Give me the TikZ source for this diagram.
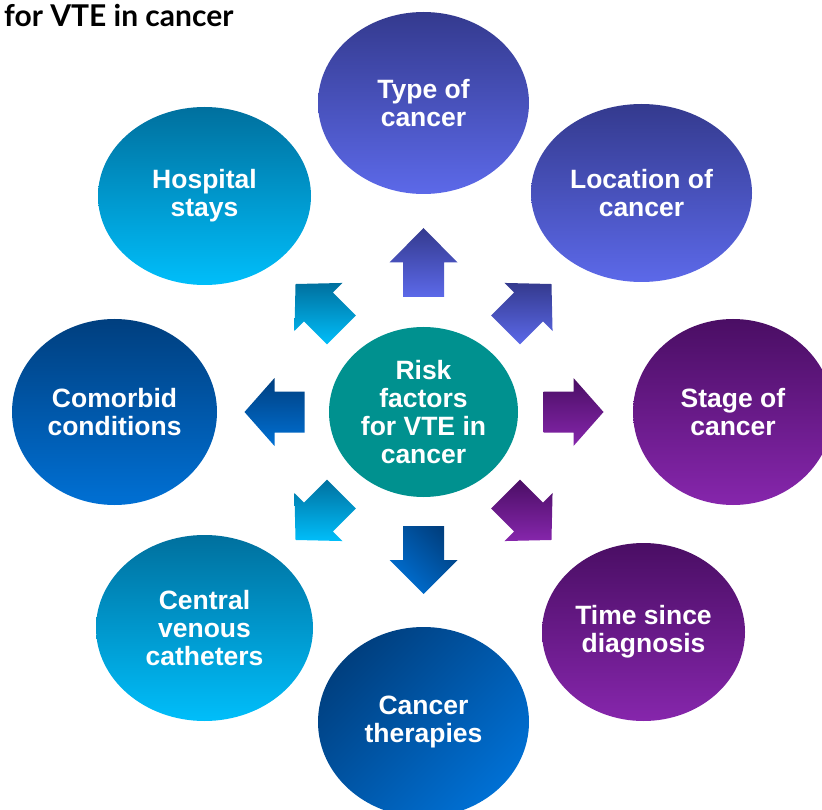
\documentclass[tikz,border=0pt]{standalone}
\usepackage{fontspec}
\setmainfont{Liberation Sans}
\newfontfamily\headfont{Lato}
\usetikzlibrary{shapes.geometric,calc}

\definecolor{indigoTop}{HTML}{343A8E}
\definecolor{indigoBot}{HTML}{5C69E9}
\definecolor{cyanTop}{HTML}{00709E}
\definecolor{cyanBot}{HTML}{00BEFA}
\definecolor{navyTop}{HTML}{003F7F}
\definecolor{navyBot}{HTML}{0070D4}
\definecolor{plumTop}{HTML}{4A0E64}
\definecolor{plumBot}{HTML}{8626AC}
\definecolor{hubTeal}{HTML}{00918F}

\tikzset{
  factor/.style={ellipse, inner sep=0pt, align=center, text=white,
    font=\fontsize{26.5}{28}\selectfont\bfseries},
  indigoshade/.style={top color=indigoTop, bottom color=indigoBot},
  cyanshade/.style={top color=cyanTop, bottom color=cyanBot},
  navyshade/.style={top color=navyTop, bottom color=navyBot},
  plumshade/.style={top color=plumTop, bottom color=plumBot},
  diagshade/.style={shading=axis, top color=navyTop, bottom color=navyBot, shading angle=#1},
  % block arrow pointing along +x, #1 = total length
  blockarrow/.pic={
    \path[pic actions] (0,-20.5) -- ({#1*0.5},-20.5) -- ({#1*0.5},-34) -- (#1,0)
      -- ({#1*0.5},34) -- ({#1*0.5},20.5) -- (0,20.5) -- cycle;
  }
}

\begin{document}
\begin{tikzpicture}[x=1pt,y=-1pt]
\useasboundingbox (0,0) rectangle (822,810);

% heading fragment
\node[anchor=base west, inner sep=0pt, font=\headfont\bfseries\fontsize{30}{32}\selectfont] (title) at (4,27) {for VTE in cancer};

% hub
\node[factor, fill=hubTeal, minimum width=189pt, minimum height=170pt] (risk) at (423.5,412)
  {Risk\\factors\\for VTE in\\cancer};

% surrounding factors
\node[factor, indigoshade, minimum width=211pt, minimum height=182pt] (type) at (423.5,103) {Type of\\cancer};
\node[factor, indigoshade, minimum width=221pt, minimum height=178pt] (location) at (641.5,193) {Location of\\cancer};
\node[factor, plumshade, minimum width=200pt, minimum height=186pt] (stage) at (733,412) {Stage of\\cancer};
\node[factor, plumshade, minimum width=203pt, minimum height=178pt] (timediag) at (643.5,632) {Time since\\diagnosis};
\node[factor, diagshade=45, minimum width=211pt, minimum height=190pt] (therapies) at (423.5,722) {Cancer\\therapies};
\node[factor, cyanshade, minimum width=217pt, minimum height=186pt] (venous) at (204.5,628) {Central\\venous\\catheters};
\node[factor, navyshade, minimum width=205pt, minimum height=186pt] (comorbid) at (114.5,412) {Comorbid\\conditions};
\node[factor, cyanshade, minimum width=213pt, minimum height=178pt] (hospital) at (204.5,196) {Hospital\\stays};

% block arrows radiating from the hub
\pic[indigoshade, rotate=90]   at ($(risk.center)+(90:115pt)$)   {blockarrow=69};
\pic[indigoshade, rotate=45]   at ($(risk.center)+(45:116pt)$)   {blockarrow=65};
\pic[plumshade, rotate=0]      at ($(risk.center)+(0:120pt)$)    {blockarrow=60};
\pic[plumshade, rotate=-45]    at ($(risk.center)+(-45:116pt)$)  {blockarrow=65};
\pic[diagshade=-45, rotate=-90] at ($(risk.center)+(-90:114pt)$) {blockarrow=68};
\pic[cyanshade, rotate=-135]   at ($(risk.center)+(-135:116pt)$) {blockarrow=65};
\pic[navyshade, rotate=180]    at ($(risk.center)+(180:119pt)$)  {blockarrow=60};
\pic[cyanshade, rotate=135]    at ($(risk.center)+(135:116pt)$)  {blockarrow=65};
\end{tikzpicture}
\end{document}
